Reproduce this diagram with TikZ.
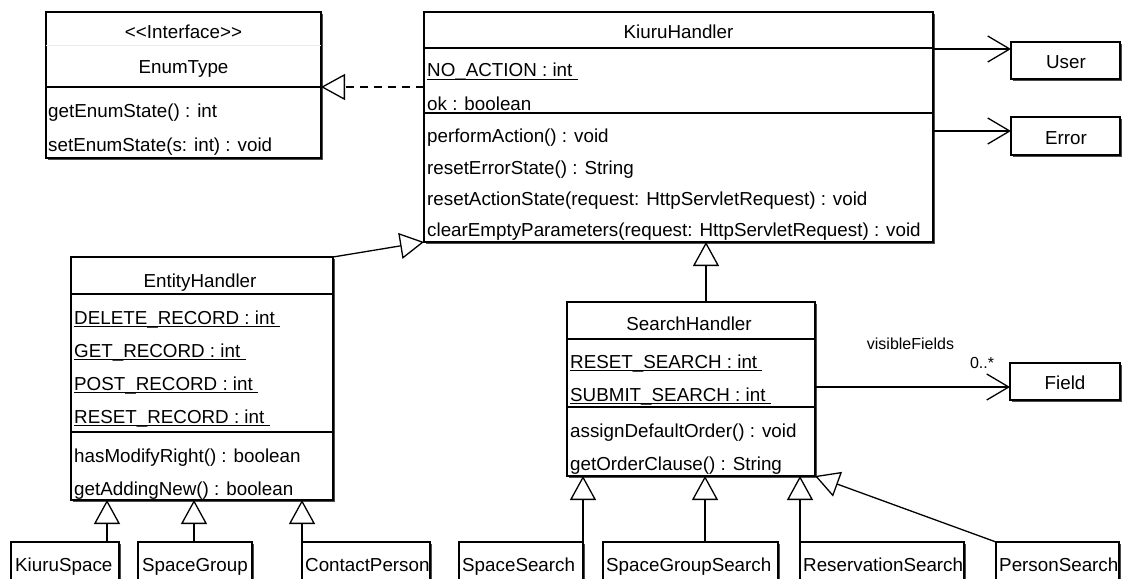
\documentclass[tikz,border=0pt]{standalone}
\usepackage{fontspec}
\setmainfont{Liberation Sans}
\usetikzlibrary{arrows.meta,shadows}

% underlined (static) class member, underline runs a little past the text
\newcommand{\staticattr}[1]{\setbox0=\hbox{#1\ }\rlap{\rule[-3pt]{\wd0}{1.1pt}}\box0}

\tikzset{
  cls/.style={draw, line width=1.4pt, fill=white, inner sep=0pt, outer sep=0pt,
    anchor=north west,
    drop shadow={shadow xshift=2.2pt, shadow yshift=-2.2pt, fill=black!70, opacity=1}},
  sepline/.style={line width=1.4pt},
  faint/.style={line width=0.6pt, black!8},
  mem/.style={anchor=base west, inner sep=0pt},
  ttl/.style={anchor=base, inner sep=0pt},
  inherit/.style={line width=1.3pt,
    -{Triangle[open, length=24pt, width=26pt, line width=1.3pt]}},
  realize/.style={inherit, dash pattern=on 8pt off 6pt},
  assoc/.style={line width=1.3pt,
    -{Straight Barb[length=22pt, width=26pt, line width=1.3pt]}},
  small/.style={font=\fontsize{16}{19}\selectfont},
}

\begin{document}
\begin{tikzpicture}[x=1pt, y=-1pt,
  every node/.style={font=\fontsize{18.8}{22}\selectfont}]
\useasboundingbox (0,0) rectangle (1123,578);
\clip (0,0) rectangle (1123,578);

% ---------- class boxes ----------
\node[cls, minimum width=275pt, minimum height=146pt] (enumT) at (46,12) {};
\node[cls, minimum width=509pt, minimum height=230pt] (kh) at (424,12) {};
\node[cls, minimum width=109pt, minimum height=37pt] (user) at (1011,42) {};
\node[cls, minimum width=109pt, minimum height=38pt] (err) at (1011,117) {};
\node[cls, minimum width=262pt, minimum height=243pt] (eh) at (71,257) {};
\node[cls, minimum width=248pt, minimum height=174pt] (sh) at (567,302) {};
\node[cls, minimum width=110pt, minimum height=37pt] (field) at (1010,363) {};

\node[cls, minimum width=108pt, minimum height=60pt] (ks) at (11,542) {};
\node[cls, minimum width=114pt, minimum height=60pt] (sg) at (138,542) {};
\node[cls, minimum width=128pt, minimum height=60pt] (cp) at (302,542) {};
\node[cls, minimum width=124pt, minimum height=60pt] (ss) at (459,542) {};
\node[cls, minimum width=175pt, minimum height=60pt] (sgs) at (603,542) {};
\node[cls, minimum width=164pt, minimum height=60pt] (rs) at (800,542) {};
\node[cls, minimum width=123pt, minimum height=60pt] (ps) at (996,542) {};

% ---------- compartments ----------
\draw[faint] (enumT.west |- 0,45) -- (enumT.east |- 0,45);
\draw[sepline] (enumT.west |- 0,87) -- (enumT.east |- 0,87);
\draw[sepline] (kh.west |- 0,48) -- (kh.east |- 0,48);
\draw[sepline] (kh.west |- 0,113) -- (kh.east |- 0,113);
\draw[sepline] (eh.west |- 0,294) -- (eh.east |- 0,294);
\draw[sepline] (eh.west |- 0,432) -- (eh.east |- 0,432);
\draw[sepline] (sh.west |- 0,339) -- (sh.east |- 0,339);
\draw[sepline] (sh.west |- 0,407) -- (sh.east |- 0,407);

% ---------- EnumType ----------
\node[ttl] (enumSt) at (183.5,38) {{<}{<}Interface{>}{>}};
\node[ttl] (enumNm) at (183.5,73) {EnumType};
\node[mem] (enumM1) at (48,117) {getEnumState() : int};
\node[mem] (enumM2) at (48,151) {setEnumState(s: int) : void};

% ---------- KiuruHandler ----------
\node[ttl] (khNm) at (678.5,39) {KiuruHandler};
\node[mem] (khA1) at (427,77) {\staticattr{NO\_ACTION : int}};
\node[mem] (khA2) at (427,110) {ok : boolean};
\node[mem] (khM1) at (427,142) {performAction() : void};
\node[mem] (khM2) at (427,174) {resetErrorState() : String};
\node[mem] (khM3) at (427,205) {resetActionState(request: HttpServletRequest) : void};
\node[mem] (khM4) at (427,236) {clearEmptyParameters(request: HttpServletRequest) : void};

% ---------- User / Error / Field ----------
\node[ttl] (userNm) at (1066,68) {User};
\node[ttl] (errNm) at (1066,144) {Error};
\node[ttl] (fieldNm) at (1065,389) {Field};

% ---------- EntityHandler ----------
\node[ttl] (ehNm) at (200,287) {EntityHandler};
\node[mem] (ehA1) at (74,324) {\staticattr{DELETE\_RECORD : int}};
\node[mem] (ehA2) at (74,357) {\staticattr{GET\_RECORD : int}};
\node[mem] (ehA3) at (74,390) {\staticattr{POST\_RECORD : int}};
\node[mem] (ehA4) at (74,423) {\staticattr{RESET\_RECORD : int}};
\node[mem] (ehM1) at (74,462) {hasModifyRight() : boolean};
\node[mem] (ehM2) at (74,495) {getAddingNew() : boolean};

% ---------- SearchHandler ----------
\node[ttl] (shNm) at (689,330) {SearchHandler};
\node[mem] (shA1) at (570,368) {\staticattr{RESET\_SEARCH : int}};
\node[mem] (shA2) at (570,401) {\staticattr{SUBMIT\_SEARCH : int}};
\node[mem] (shM1) at (570,437) {assignDefaultOrder() : void};
\node[mem] (shM2) at (570,470) {getOrderClause() : String};

% ---------- leaf classes ----------
\node[mem] (ksNm) at (15,571) {KiuruSpace};
\node[mem] (sgNm) at (142,571) {SpaceGroup};
\node[mem] (cpNm) at (305,571) {ContactPerson};
\node[mem] (ssNm) at (462,571) {SpaceSearch};
\node[mem] (sgsNm) at (606,571) {SpaceGroupSearch};
\node[mem] (rsNm) at (803,571) {ReservationSearch};
\node[mem] (psNm) at (999,571) {PersonSearch};

% ---------- relations ----------
\draw[realize] (kh.west |- 0,87) -- (enumT.east |- 0,87);
\draw[assoc] (kh.east |- 0,49) -- (user.west |- 0,49);
\draw[assoc] (kh.east |- 0,131) -- (err.west |- 0,131);
\draw[inherit] (eh.north east) -- (kh.south west);
\draw[inherit] (sh.north -| 706,0) -- (kh.south -| 706,0);
\draw[assoc] (sh.east |- 0,387) -- (field.west |- 0,387);
\node[small, anchor=base] (visLbl) at (910.5,349) {visibleFields};
\node[small, anchor=base] (multLbl) at (982,368) {0..*};

\draw[inherit] (ks.north -| 107,0) -- (eh.south -| 107,0);
\draw[inherit] (sg.north -| 194,0) -- (eh.south -| 194,0);
\draw[inherit] (cp.north west) -- (eh.south -| cp.north west);
\draw[inherit] (ss.north east) -- (sh.south -| ss.north east);
\draw[inherit] (sgs.north -| 705,0) -- (sh.south -| 705,0);
\draw[inherit] (rs.north west) -- (sh.south -| rs.north west);
\draw[inherit] (ps.north west) -- (sh.south east);
\end{tikzpicture}
\end{document}
